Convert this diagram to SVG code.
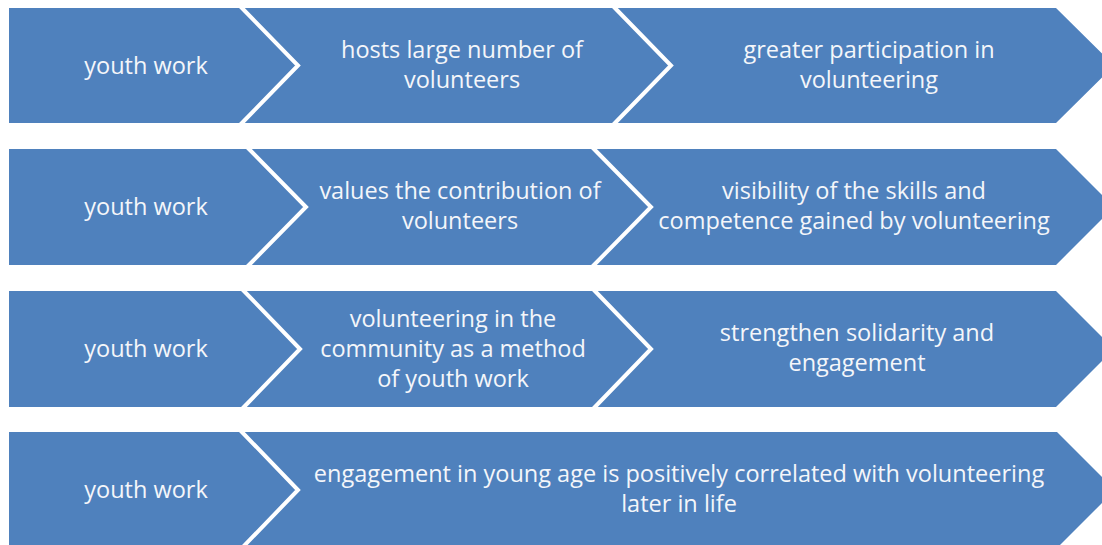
<svg xmlns="http://www.w3.org/2000/svg" width="1102" height="545" viewBox="0 0 1102 545">
<style>
.seg{fill:#4F81BD;}
.sep{fill:none;stroke:#FFFFFF;stroke-width:4;stroke-linejoin:miter;}
.t{font-family:"Open Sans","Liberation Sans",sans-serif;font-size:23.5px;fill:#F4F6FA;text-anchor:middle;}
</style>
<rect width="1102" height="545" fill="#FFFFFF"/>
<g id="row1">
  <g id="r1a"><polygon class="seg" points="9,8 240,8 298,65.5 240,123 9,123"/><text class="t" x="146" y="74">youth work</text></g>
  <g id="r1b"><polygon class="seg" points="240,8 613,8 671,65.5 613,123 240,123 298,65.5"/><text class="t" x="462" y="58">hosts large number of</text><text class="t" x="462" y="88">volunteers</text></g>
  <g id="r1c"><polygon class="seg" points="613,8 1056,8 1114,65.5 1056,123 613,123 671,65.5"/><text class="t" x="869" y="58">greater participation in</text><text class="t" x="869" y="88">volunteering</text></g>
</g>
<g id="row2">
  <g id="r2a"><polygon class="seg" points="9,149 247,149 306,207 247,265 9,265"/><text class="t" x="146" y="215">youth work</text></g>
  <g id="r2b"><polygon class="seg" points="247,149 592,149 651,207 592,265 247,265 306,207"/><text class="t" x="460" y="199">values the contribution of</text><text class="t" x="460" y="229">volunteers</text></g>
  <g id="r2c"><polygon class="seg" points="592,149 1056,149 1114,207 1056,265 592,265 651,207"/><text class="t" x="854" y="199">visibility of the skills and</text><text class="t" x="854" y="229">competence gained by volunteering</text></g>
</g>
<g id="row3">
  <g id="r3a"><polygon class="seg" points="9,291 242,291 300,349 242,407 9,407"/><text class="t" x="146" y="357">youth work</text></g>
  <g id="r3b"><polygon class="seg" points="242,291 593,291 651,349 593,407 242,407 300,349"/><text class="t" x="453" y="327">volunteering in the</text><text class="t" x="453" y="357">community as a method</text><text class="t" x="453" y="387">of youth work</text></g>
  <g id="r3c"><polygon class="seg" points="593,291 1056,291 1114,349 1056,407 593,407 651,349"/><text class="t" x="857" y="341">strengthen solidarity and</text><text class="t" x="857" y="371">engagement</text></g>
</g>
<g id="row4">
  <g id="r4a"><polygon class="seg" points="9,432 240,432 298,490 240,548 9,548"/><text class="t" x="146" y="498">youth work</text></g>
  <g id="r4b"><polygon class="seg" points="240,432 1057,432 1115,490 1057,548 240,548 298,490"/><text class="t" x="679" y="482">engagement in young age is positively correlated with volunteering</text><text class="t" x="679" y="512">later in life</text></g>
</g>
<g id="connectors">
  <polyline class="sep" points="240,6 298,65.5 240,125"/>
  <polyline class="sep" points="613,6 671,65.5 613,125"/>
  <polyline class="sep" points="247,147 306,207 247,267"/>
  <polyline class="sep" points="592,147 651,207 592,267"/>
  <polyline class="sep" points="242,289 300,349 242,409"/>
  <polyline class="sep" points="593,289 651,349 593,409"/>
  <polyline class="sep" points="240,430 298,490 240,550"/>
</g>
</svg>
